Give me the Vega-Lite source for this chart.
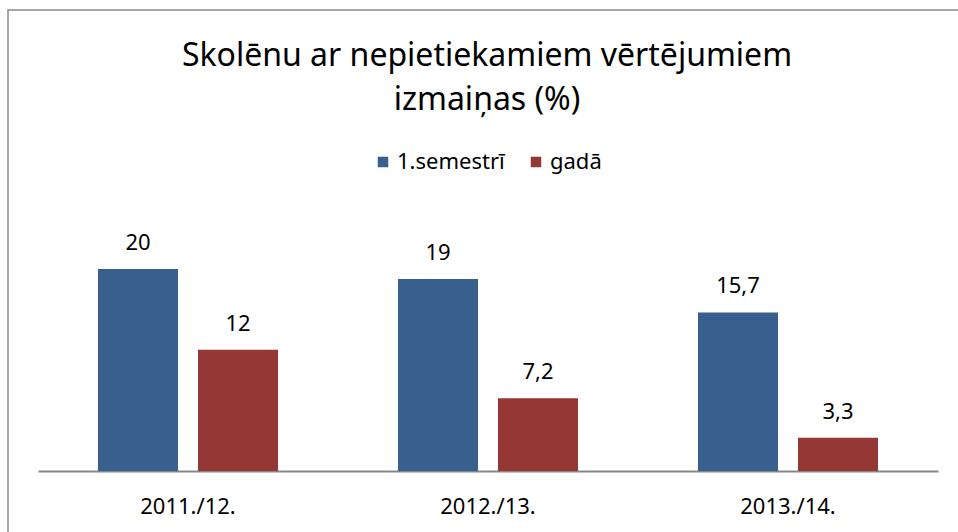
{
  "$schema": "https://vega.github.io/schema/vega-lite/v6.json",
  "autosize": "none",
  "width": 952,
  "height": 524,
  "padding": {"left": 8, "top": 10, "right": 0, "bottom": 0},
  "background": "white",
  "config": {
    "view": {"stroke": "#8a8a8a", "strokeWidth": 1.5},
    "font": "Noto Sans"
  },
  "title": {
    "text": ["Skolēnu ar nepietiekamiem vērtējumiem", "izmaiņas (%)"],
    "fontSize": 32,
    "fontWeight": "normal",
    "color": "black",
    "anchor": "start",
    "offset": -107,
    "lineHeight": 44,
    "baseline": "top",
    "align": "center",
    "dx": 479
  },
  "data": {
    "values": [
      {"year": "2011./12.", "series": "1.semestrī", "value": 20, "label": "20"},
      {"year": "2011./12.", "series": "gadā", "value": 12, "label": "12"},
      {"year": "2012./13.", "series": "1.semestrī", "value": 19, "label": "19"},
      {"year": "2012./13.", "series": "gadā", "value": 7.2, "label": "7,2"},
      {"year": "2013./14.", "series": "1.semestrī", "value": 15.7, "label": "15,7"},
      {"year": "2013./14.", "series": "gadā", "value": 3.3, "label": "3,3"}
    ]
  },
  "encoding": {
    "x": {
      "field": "year",
      "type": "nominal",
      "sort": null,
      "scale": {"range": [30, 930], "paddingInner": 0, "paddingOuter": 0},
      "axis": {
        "title": null,
        "orient": "bottom",
        "offset": -63,
        "domainColor": "#868686",
        "domainWidth": 2,
        "ticks": false,
        "grid": false,
        "labelFontSize": 22,
        "labelColor": "black",
        "labelPadding": 25,
        "labelAngle": 0
      }
    },
    "xOffset": {
      "field": "series",
      "type": "nominal",
      "sort": ["1.semestrī", "gadā"],
      "scale": {"paddingInner": 0.2, "paddingOuter": 0.6}
    },
    "y": {
      "field": "value",
      "type": "quantitative",
      "scale": {"domain": [0, 25], "range": [461, 208.5], "nice": false, "zero": true},
      "axis": null
    }
  },
  "layer": [
    {
      "mark": {"type": "bar"},
      "encoding": {
        "color": {
          "field": "series",
          "type": "nominal",
          "sort": ["1.semestrī", "gadā"],
          "scale": {"domain": ["1.semestrī", "gadā"], "range": ["#385F8E", "#953735"]},
          "legend": {
            "title": null,
            "orient": "none",
            "legendX": 364,
            "legendY": 141,
            "direction": "horizontal",
            "symbolType": "square",
            "symbolSize": 110,
            "symbolStrokeWidth": 0,
            "labelFontSize": 22,
            "labelColor": "black",
            "labelOffset": 3,
            "columnPadding": 20
          }
        }
      }
    },
    {
      "mark": {"type": "text", "dy": -19, "fontSize": 22, "baseline": "alphabetic", "color": "black"},
      "encoding": {"text": {"field": "label", "type": "nominal"}}
    }
  ]
}
